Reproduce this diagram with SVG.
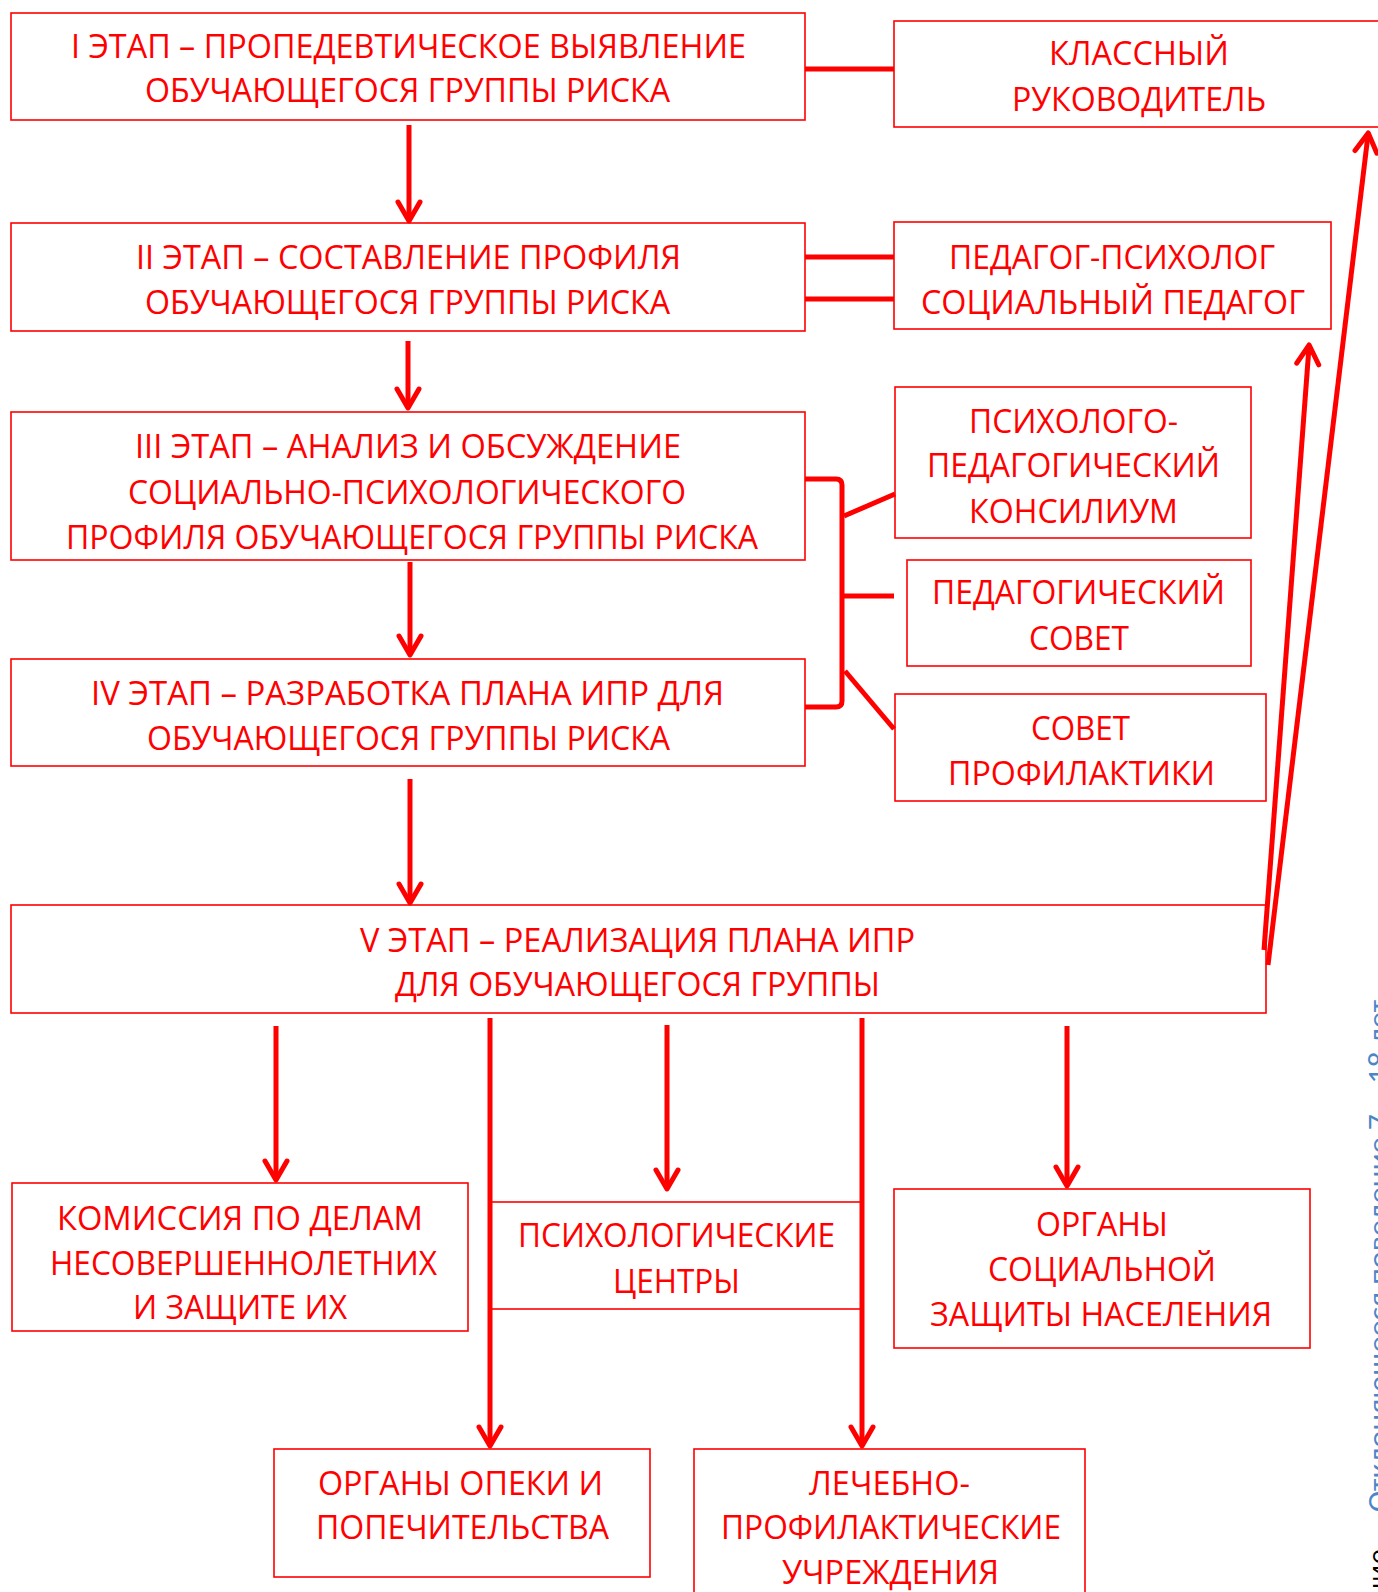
<svg xmlns="http://www.w3.org/2000/svg" width="1378" height="1592" viewBox="0 0 1378 1592">
<style>
.box{fill:#fff;stroke:#ff0000;stroke-width:1.6}
.t{font-family:"Open Sans","Noto Sans",sans-serif;font-size:32px;fill:#ff0000}
.ln{fill:none;stroke:#ff0000;stroke-width:5;stroke-linecap:butt;stroke-linejoin:round}
.ar{fill:none;stroke:#ff0000;stroke-width:5;marker-end:url(#chev)}
</style>
<defs>
<marker id="chev" markerUnits="userSpaceOnUse" viewBox="-25 -15 30 30" markerWidth="30" markerHeight="30" refX="0" refY="0" orient="auto" overflow="visible">
<path d="M-17 -11 L2 0 L-17 11" fill="none" stroke="#ff0000" stroke-width="5" stroke-linecap="round" stroke-linejoin="round"/>
</marker>
</defs>
<rect width="1378" height="1592" fill="#fff"/>

<g id="n-stage1">
<rect class="box" x="11" y="13" width="794" height="107"/>
<text class="t" x="71" y="58" textLength="675" lengthAdjust="spacingAndGlyphs">I ЭТАП – ПРОПЕДЕВТИЧЕСКОЕ ВЫЯВЛЕНИЕ</text>
<text class="t" x="145" y="102" textLength="525" lengthAdjust="spacingAndGlyphs">ОБУЧАЮЩЕГОСЯ ГРУППЫ РИСКА</text>
</g>
<g id="n-klass">
<rect class="box" x="894" y="21" width="520" height="106"/>
<text class="t" x="1049" y="65" textLength="180" lengthAdjust="spacingAndGlyphs">КЛАССНЫЙ</text>
<text class="t" x="1012" y="111" textLength="254" lengthAdjust="spacingAndGlyphs">РУКОВОДИТЕЛЬ</text>
</g>
<g id="n-stage2">
<rect class="box" x="11" y="223" width="794" height="108"/>
<text class="t" x="136" y="269" textLength="545" lengthAdjust="spacingAndGlyphs">II ЭТАП – СОСТАВЛЕНИЕ ПРОФИЛЯ</text>
<text class="t" x="145" y="314" textLength="525" lengthAdjust="spacingAndGlyphs">ОБУЧАЮЩЕГОСЯ ГРУППЫ РИСКА</text>
</g>
<g id="n-pedpsy">
<rect class="box" x="894" y="222" width="437" height="107"/>
<text class="t" x="949" y="269" textLength="326" lengthAdjust="spacingAndGlyphs">ПЕДАГОГ-ПСИХОЛОГ</text>
<text class="t" x="921" y="314" textLength="384" lengthAdjust="spacingAndGlyphs">СОЦИАЛЬНЫЙ ПЕДАГОГ</text>
</g>
<g id="n-stage3">
<rect class="box" x="11" y="412" width="794" height="148"/>
<text class="t" x="135" y="458" textLength="546" lengthAdjust="spacingAndGlyphs">III ЭТАП – АНАЛИЗ И ОБСУЖДЕНИЕ</text>
<text class="t" x="128" y="504" textLength="558" lengthAdjust="spacingAndGlyphs">СОЦИАЛЬНО-ПСИХОЛОГИЧЕСКОГО</text>
<text class="t" x="66" y="549" textLength="692" lengthAdjust="spacingAndGlyphs">ПРОФИЛЯ ОБУЧАЮЩЕГОСЯ ГРУППЫ РИСКА</text>
</g>
<g id="n-ppk">
<rect class="box" x="895" y="387" width="356" height="151"/>
<text class="t" x="969" y="433" textLength="209" lengthAdjust="spacingAndGlyphs">ПСИХОЛОГО-</text>
<text class="t" x="927" y="477" textLength="293" lengthAdjust="spacingAndGlyphs">ПЕДАГОГИЧЕСКИЙ</text>
<text class="t" x="969" y="523" textLength="209" lengthAdjust="spacingAndGlyphs">КОНСИЛИУМ</text>
</g>
<g id="n-pedsovet">
<rect class="box" x="907" y="560" width="344" height="106"/>
<text class="t" x="932" y="604" textLength="293" lengthAdjust="spacingAndGlyphs">ПЕДАГОГИЧЕСКИЙ</text>
<text class="t" x="1029" y="650" textLength="100" lengthAdjust="spacingAndGlyphs">СОВЕТ</text>
</g>
<g id="n-stage4">
<rect class="box" x="11" y="659" width="794" height="107"/>
<text class="t" x="91" y="705" textLength="633" lengthAdjust="spacingAndGlyphs">IV ЭТАП – РАЗРАБОТКА ПЛАНА ИПР ДЛЯ</text>
<text class="t" x="147" y="750" textLength="523" lengthAdjust="spacingAndGlyphs">ОБУЧАЮЩЕГОСЯ ГРУППЫ РИСКА</text>
</g>
<g id="n-sovetprof">
<rect class="box" x="895" y="694" width="371" height="107"/>
<text class="t" x="1031" y="740" textLength="99" lengthAdjust="spacingAndGlyphs">СОВЕТ</text>
<text class="t" x="948" y="785" textLength="267" lengthAdjust="spacingAndGlyphs">ПРОФИЛАКТИКИ</text>
</g>
<g id="n-stage5">
<rect class="box" x="11" y="905" width="1255" height="108"/>
<text class="t" x="360" y="952" textLength="555" lengthAdjust="spacingAndGlyphs">V ЭТАП – РЕАЛИЗАЦИЯ ПЛАНА ИПР</text>
<text class="t" x="395" y="996" textLength="485" lengthAdjust="spacingAndGlyphs">ДЛЯ ОБУЧАЮЩЕГОСЯ ГРУППЫ</text>
</g>
<g id="n-kdn">
<rect class="box" x="12" y="1183" width="456" height="148"/>
<text class="t" x="57" y="1230" textLength="366" lengthAdjust="spacingAndGlyphs">КОМИССИЯ ПО ДЕЛАМ</text>
<text class="t" x="50" y="1275" textLength="387" lengthAdjust="spacingAndGlyphs">НЕСОВЕРШЕННОЛЕТНИХ</text>
<text class="t" x="133" y="1319" textLength="214" lengthAdjust="spacingAndGlyphs">И ЗАЩИТЕ ИХ</text>
</g>
<g id="n-psycentre">
<rect class="box" x="490" y="1202" width="372" height="107"/>
<text class="t" x="518" y="1247" textLength="317" lengthAdjust="spacingAndGlyphs">ПСИХОЛОГИЧЕСКИЕ</text>
<text class="t" x="613" y="1293" textLength="127" lengthAdjust="spacingAndGlyphs">ЦЕНТРЫ</text>
</g>
<g id="n-social">
<rect class="box" x="894" y="1189" width="416" height="159"/>
<text class="t" x="1036" y="1236" textLength="132" lengthAdjust="spacingAndGlyphs">ОРГАНЫ</text>
<text class="t" x="988" y="1281" textLength="228" lengthAdjust="spacingAndGlyphs">СОЦИАЛЬНОЙ</text>
<text class="t" x="930" y="1326" textLength="342" lengthAdjust="spacingAndGlyphs">ЗАЩИТЫ НАСЕЛЕНИЯ</text>
</g>
<g id="n-opeka">
<rect class="box" x="274" y="1449" width="376" height="128"/>
<text class="t" x="318" y="1495" textLength="285" lengthAdjust="spacingAndGlyphs">ОРГАНЫ ОПЕКИ И</text>
<text class="t" x="316" y="1539" textLength="293" lengthAdjust="spacingAndGlyphs">ПОПЕЧИТЕЛЬСТВА</text>
</g>
<g id="n-lech">
<rect class="box" x="694" y="1449" width="391" height="200"/>
<text class="t" x="809" y="1495" textLength="161" lengthAdjust="spacingAndGlyphs">ЛЕЧЕБНО-</text>
<text class="t" x="721" y="1539" textLength="340" lengthAdjust="spacingAndGlyphs">ПРОФИЛАКТИЧЕСКИЕ</text>
<text class="t" x="782" y="1584" textLength="217" lengthAdjust="spacingAndGlyphs">УЧРЕЖДЕНИЯ</text>
</g>

<g id="connectors">
<path class="ln" d="M805 69 H894"/>
<path class="ln" d="M805 257 H894"/>
<path class="ln" d="M805 299 H894"/>
<path class="ln" d="M805 479 H836 Q842 479 842 485 V701 Q842 707 836 707 H805"/>
<path class="ln" d="M844 516 L895 494"/>
<path class="ln" d="M842 596 H894"/>
<path class="ln" d="M845 671 L894 729"/>
<path class="ar" d="M409 125 V219"/>
<path class="ar" d="M408 341 V406"/>
<path class="ar" d="M410 562 V653"/>
<path class="ar" d="M410 779 V901"/>
<path class="ar" d="M276 1026 V1178"/>
<path class="ar" d="M490 1018 V1444"/>
<path class="ar" d="M667 1025 V1187"/>
<path class="ar" d="M862 1018 V1444"/>
<path class="ar" d="M1067 1026 V1184"/>
<path class="ar" d="M1264 950 L1309 347"/>
<path class="ar" d="M1268 965 L1368 135"/>
</g>

<text transform="translate(1388,1512) rotate(-90)" font-family="Calibri,'Open Sans',sans-serif" font-size="28" fill="#4a86c8" textLength="512" lengthAdjust="spacingAndGlyphs">Отклоняющееся поведение 7 – 18 лет</text>
<text transform="translate(1388,1600) rotate(-90)" font-family="'Open Sans',sans-serif" font-size="28" fill="#000">ние</text>
</svg>
